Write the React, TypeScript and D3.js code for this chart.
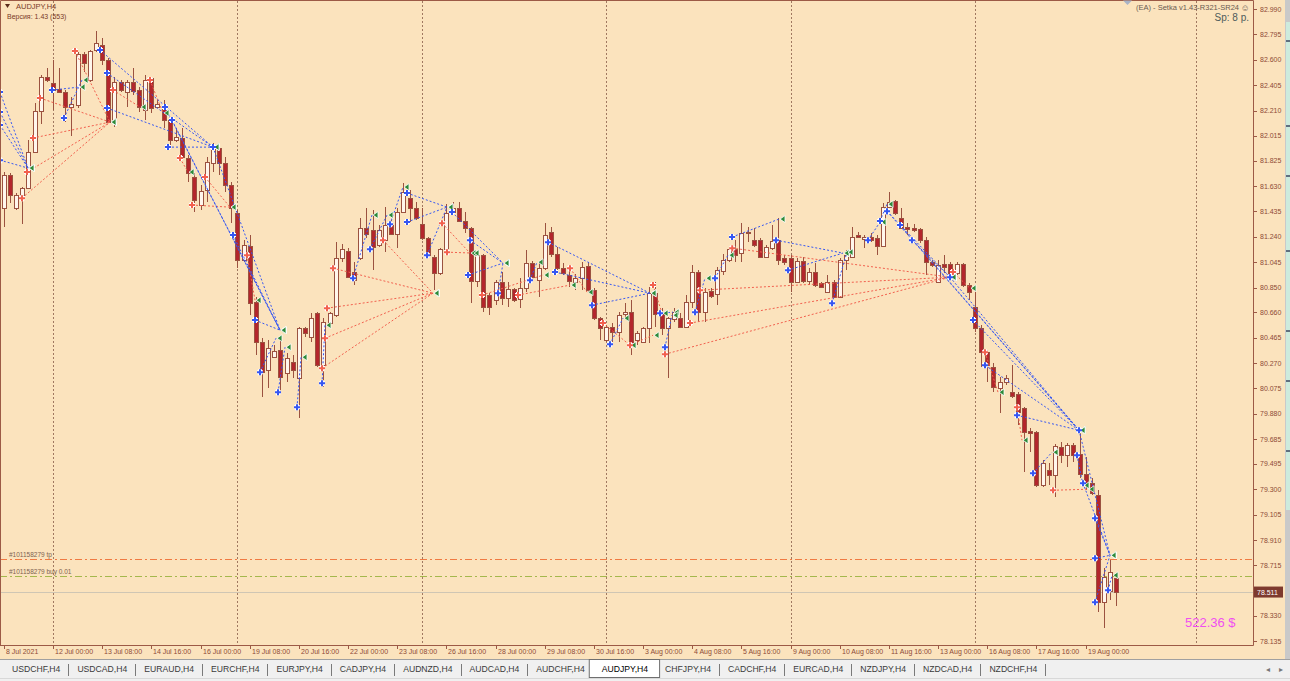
import React, { useMemo } from "react";
import * as d3 from "d3";

// AUDJPY H4 bars, [open, high, low, close], one list per trading week
const week0 = [
  [81.46, 81.737, 81.314, 81.714], [81.714, 81.729, 81.499, 81.56], [81.46, 81.576, 81.445, 81.56],
  [81.56, 81.622, 81.337, 81.614], [81.614, 81.983, 81.606, 81.891], [81.891, 82.267, 81.883, 82.206],
  [82.206, 82.483, 82.106, 82.467], [82.467, 82.537, 82.429, 82.444],
];
const week1 = [
  [82.421, 82.598, 82.214, 82.367], [82.375, 82.537, 82.344, 82.352], [82.352, 82.367, 82.121, 82.237],
  [82.237, 82.314, 82.014, 82.26], [82.252, 82.66, 82.229, 82.644], [82.644, 82.66, 82.506, 82.575],
  [82.444, 82.675, 82.429, 82.667], [82.675, 82.821, 82.66, 82.729], [82.713, 82.767, 82.56, 82.598],
  [82.598, 82.613, 82.114, 82.121], [82.121, 82.467, 82.083, 82.429], [82.429, 82.444, 82.352, 82.367],
  [82.352, 82.444, 82.237, 82.429], [82.429, 82.537, 82.329, 82.36], [82.367, 82.39, 82.198, 82.237],
  [82.214, 82.483, 82.137, 82.444], [82.46, 82.467, 82.191, 82.229], [82.237, 82.291, 82.229, 82.26],
  [82.252, 82.291, 82.075, 82.137], [82.137, 82.16, 81.945, 81.983], [81.983, 82.075, 81.968, 82.006],
  [81.998, 82.075, 81.845, 81.852], [81.845, 81.868, 81.66, 81.729], [81.699, 81.729, 81.43, 81.522],
  [81.484, 81.637, 81.445, 81.591], [81.599, 81.852, 81.507, 81.814], [81.806, 81.96, 81.737, 81.929],
  [81.922, 81.929, 81.714, 81.806], [81.806, 81.852, 81.583, 81.637], [81.637, 81.66, 81.345, 81.46],
];
const week2 = [
  [81.422, 81.445, 80.999, 81.061], [81.061, 81.214, 81.045, 81.176], [81.168, 81.253, 80.638, 80.73],
  [80.738, 80.776, 80.331, 80.43], [80.43, 80.461, 80.008, 80.2], [80.215, 80.446, 80.077, 80.384],
  [80.315, 80.407, 80.308, 80.361], [80.369, 80.446, 80.046, 80.162], [80.192, 80.346, 80.123, 80.308],
  [80.277, 80.331, 80.154, 80.215], [80.154, 80.546, 79.846, 80.538], [80.538, 80.546, 80.469, 80.5],
  [80.469, 80.653, 80.43, 80.615], [80.653, 80.661, 80.238, 80.254], [80.254, 80.615, 80.085, 80.584],
  [80.577, 80.661, 80.561, 80.653], [80.638, 81.199, 80.623, 81.076], [81.076, 81.184, 81.045, 81.145],
  [81.13, 81.153, 80.922, 80.93], [80.969, 81.045, 80.869, 80.907], [81.076, 81.384, 81.061, 81.307],
  [81.307, 81.46, 81.23, 81.261], [81.291, 81.445, 80.984, 81.161], [81.176, 81.33, 81.161, 81.291],
  [81.214, 81.468, 81.122, 81.33], [81.33, 81.368, 81.253, 81.261], [81.261, 81.46, 81.153, 81.43],
  [81.43, 81.653, 81.422, 81.583], [81.537, 81.599, 81.353, 81.46], [81.46, 81.507, 81.368, 81.384],
];
const week3 = [
  [81.337, 81.46, 81.214, 81.23], [81.23, 81.238, 81.076, 81.099], [81.084, 81.099, 80.83, 80.961],
  [80.961, 81.153, 80.946, 81.145], [81.145, 81.491, 81.099, 81.422], [81.43, 81.507, 81.422, 81.46],
  [81.46, 81.507, 81.353, 81.361], [81.361, 81.43, 81.268, 81.307], [81.307, 81.314, 80.73, 80.899],
  [80.899, 81.115, 80.853, 81.099], [81.099, 81.107, 80.661, 80.7], [80.792, 80.807, 80.638, 80.7],
  [80.753, 80.907, 80.715, 80.892], [80.892, 80.969, 80.715, 80.769], [80.769, 80.892, 80.7, 80.838],
  [80.838, 80.845, 80.738, 80.753], [80.761, 80.922, 80.692, 80.845], [80.845, 81.138, 80.815, 81.038],
  [81.038, 81.053, 80.892, 80.93], [80.907, 81.053, 80.776, 80.999], [80.999, 81.345, 80.984, 81.253],
  [81.276, 81.314, 81.084, 81.107], [81.107, 81.161, 80.984, 80.999], [80.999, 81.038, 80.946, 80.961],
  [80.946, 81.022, 80.853, 80.899], [80.892, 80.953, 80.83, 80.922], [80.922, 81.045, 80.83, 81.007],
  [81.015, 81.045, 80.807, 80.83], [80.83, 80.845, 80.6, 80.615], [80.615, 80.623, 80.446, 80.538],
];
const week4 = [
  [80.446, 80.561, 80.43, 80.546], [80.546, 80.577, 80.43, 80.507], [80.507, 80.661, 80.43, 80.638],
  [80.646, 80.73, 80.615, 80.661], [80.661, 80.753, 80.331, 80.407], [80.446, 80.515, 80.407, 80.5],
  [80.43, 80.546, 80.423, 80.538], [80.538, 80.853, 80.423, 80.807], [80.807, 80.892, 80.546, 80.646],
  [80.646, 80.692, 80.484, 80.538], [80.538, 80.623, 80.154, 80.615], [80.607, 80.692, 80.584, 80.661],
  [80.615, 80.653, 80.538, 80.546], [80.546, 80.792, 80.538, 80.738], [80.738, 81.022, 80.692, 80.969],
  [80.969, 80.984, 80.584, 80.661], [80.661, 80.845, 80.584, 80.815], [80.822, 80.845, 80.769, 80.784],
  [80.799, 81.007, 80.715, 80.984], [80.976, 81.107, 80.946, 81.061], [81.061, 81.161, 81.045, 81.145],
  [81.145, 81.214, 81.045, 81.099], [81.115, 81.345, 81.045, 81.268], [81.268, 81.314, 81.199, 81.276],
  [81.214, 81.307, 81.161, 81.176], [81.214, 81.23, 81.076, 81.084], [81.084, 81.176, 81.076, 81.161],
  [81.153, 81.33, 81.138, 81.207], [81.214, 81.384, 81.022, 81.061], [81.076, 81.099, 81.022, 81.045],
];
const week5 = [
  [81.076, 81.099, 80.815, 80.892], [80.892, 81.076, 80.884, 81.053], [81.053, 81.084, 80.884, 80.899],
  [80.899, 80.999, 80.869, 80.969], [80.969, 81.038, 80.853, 80.869], [80.884, 80.892, 80.845, 80.853],
  [80.815, 80.946, 80.807, 80.892], [80.892, 80.907, 80.769, 80.776], [80.776, 81.076, 80.769, 81.061],
  [81.061, 81.138, 80.984, 81.099], [81.084, 81.314, 81.076, 81.238], [81.253, 81.276, 81.23, 81.238],
  [81.222, 81.253, 81.153, 81.238], [81.238, 81.268, 81.199, 81.214], [81.23, 81.253, 81.099, 81.168],
  [81.168, 81.499, 81.161, 81.468], [81.468, 81.583, 81.46, 81.507], [81.514, 81.522, 81.407, 81.422],
  [81.384, 81.46, 81.299, 81.307], [81.314, 81.345, 81.253, 81.299], [81.307, 81.337, 81.276, 81.291],
  [81.299, 81.307, 81.191, 81.214], [81.214, 81.238, 80.946, 81.045], [81.045, 81.061, 81.007, 81.022],
  [80.892, 81.061, 80.884, 81.022], [81.03, 81.099, 80.961, 81.007], [81.03, 81.045, 80.922, 80.953],
  [80.961, 81.045, 80.946, 81.03], [81.03, 81.038, 80.853, 80.869], [80.869, 80.884, 80.753, 80.815],
];
const week6 = [
  [80.7, 80.869, 80.507, 80.538], [80.538, 80.561, 80.238, 80.354], [80.354, 80.369, 80.123, 80.254],
  [80.238, 80.269, 80.046, 80.085], [80.077, 80.162, 79.885, 80.123], [80.123, 80.177, 80.1, 80.154],
  [80.046, 80.254, 80.0, 80.015], [80.031, 80.046, 79.793, 79.893], [79.923, 79.931, 79.431, 79.739],
  [79.746, 79.77, 79.585, 79.731], [79.739, 79.746, 79.316, 79.331], [79.331, 79.524, 79.316, 79.5],
  [79.447, 79.5, 79.331, 79.408], [79.408, 79.647, 79.239, 79.631], [79.623, 79.662, 79.5, 79.562],
  [79.562, 79.654, 79.47, 79.639], [79.639, 79.654, 79.508, 79.562], [79.57, 79.77, 79.385, 79.416],
  [79.416, 79.547, 79.293, 79.331], [79.347, 79.385, 79.255, 79.27], [79.255, 79.293, 78.355, 78.432],
  [78.432, 78.693, 78.232, 78.624], [78.517, 78.755, 78.448, 78.663], [78.617, 78.655, 78.401, 78.511],
];

const timeLabels = [
  "8 Jul 2021", "12 Jul 00:00", "13 Jul 08:00", "14 Jul 16:00", "16 Jul 00:00", "19 Jul 08:00",
  "20 Jul 16:00", "22 Jul 00:00", "23 Jul 08:00", "26 Jul 16:00", "28 Jul 00:00", "29 Jul 08:00",
  "30 Jul 16:00", "3 Aug 00:00", "4 Aug 08:00", "5 Aug 16:00", "9 Aug 00:00", "10 Aug 08:00",
  "11 Aug 16:00", "13 Aug 00:00", "16 Aug 08:00", "17 Aug 16:00", "19 Aug 00:00",
];
const priceTicks = [
  82.99, 82.795, 82.6, 82.405, 82.21, 82.015, 81.825, 81.63, 81.435, 81.24, 81.045, 80.85, 80.66,
  80.465, 80.27, 80.075, 79.88, 79.685, 79.495, 79.3, 79.105, 78.91, 78.715, 78.33, 78.135,
];
const weekStarts = [8, 38, 68, 98, 128, 158, 194];

// trade history: [open bar, open price, close bar, close price]
const buyTrades = [
  [-0.62, 82.352, 3.94, 81.768], [-0.62, 82.198, 3.94, 81.768], [-0.62, 82.098, 3.94, 81.768],
  [-0.62, 81.829, 3.94, 81.768], [7.84, 82.367, 12.23, 82.39], [9.79, 82.152, 12.72, 82.444],
  [15.65, 82.675, 34.03, 81.929], [16.79, 82.498, 34.03, 81.929], [16.79, 82.229, 34.03, 81.929],
  [26.71, 81.929, 34.03, 81.929], [34.03, 81.929, 44.93, 80.523], [26.22, 82.237, 44.93, 80.523],
  [27.36, 82.137, 44.93, 80.523], [37.29, 81.253, 44.93, 80.523], [40.87, 80.6, 44.93, 80.523],
  [41.68, 80.2, 44.28, 80.461], [44.61, 80.046, 45.75, 80.392], [47.7, 79.931, 48.35, 80.315],
  [51.77, 80.115, 52.25, 80.561], [56.81, 80.922, 59.9, 81.407], [59.57, 81.145, 62.34, 81.407],
  [62.83, 81.337, 64.94, 81.622], [65.59, 81.576, 72.1, 81.468], [65.59, 81.353, 72.1, 81.468],
  [68.85, 81.099, 72.1, 81.468], [72.91, 81.43, 81.21, 81.038], [75.84, 81.214, 81.21, 81.038],
  [75.52, 80.946, 81.21, 81.038], [80.4, 80.807, 81.21, 81.038], [85.6, 80.907, 86.74, 81.045],
  [88.53, 81.199, 105.13, 80.807], [89.67, 80.969, 105.13, 80.807], [95.69, 80.715, 105.13, 80.807],
  [98.62, 80.415, 100.73, 80.615], [106.75, 80.653, 108.87, 80.661], [107.56, 80.392, 108.7, 80.638],
  [112.45, 80.661, 114.07, 80.922], [115.7, 80.922, 117.81, 81.099], [118.47, 81.238, 126.11, 81.376],
  [125.62, 81.214, 136.52, 81.115], [127.58, 80.984, 136.52, 81.115], [134.74, 80.73, 137.17, 81.122],
  [140.59, 81.214, 142.54, 81.353], [142.54, 81.361, 143.68, 81.491], [143.68, 81.437, 153.93, 80.93],
  [147.74, 81.214, 153.93, 80.93], [143.68, 81.437, 174.92, 79.754], [145.8, 81.33, 174.92, 79.754],
  [153.93, 80.93, 174.92, 79.754], [157.67, 80.6, 174.92, 79.754], [159.62, 80.254, 174.92, 79.754],
  [164.83, 79.869, 174.92, 79.754], [167.43, 79.424, 170.53, 79.585], [174.59, 79.562, 175.57, 79.331],
  [174.92, 79.754, 179.96, 78.793], [175.57, 79.347, 179.96, 78.793], [177.52, 79.078, 179.96, 78.793],
  [177.52, 78.432, 179.96, 78.793], [177.52, 78.77, 179.96, 78.793], [179.64, 78.524, 180.29, 78.64],
];
const sellTrades = [
  [5.89, 82.306, 17.28, 82.121], [4.75, 81.999, 17.28, 82.121], [3.77, 81.737, 17.28, 82.121],
  [2.96, 81.537, 17.28, 82.121], [11.58, 82.667, 17.28, 82.121], [17.76, 82.367, 22.16, 82.237],
  [23.78, 82.444, 25.9, 82.191], [28.66, 81.845, 29.97, 81.737], [30.62, 81.484, 36.8, 81.468],
  [32.73, 81.699, 36.8, 81.468], [39.56, 81.099, 40.87, 80.753], [53.55, 80.999, 69.82, 80.807],
  [52.58, 80.692, 69.82, 80.807], [52.25, 80.461, 69.82, 80.807], [51.77, 80.231, 69.82, 80.807],
  [61.69, 81.214, 69.82, 80.807], [71.29, 81.345, 75.84, 81.115], [72.1, 81.122, 76.33, 81.115],
  [77.79, 80.792, 87.72, 80.946], [83.65, 80.792, 92.11, 80.869], [92.11, 80.999, 94.88, 80.815],
  [97.47, 80.577, 101.87, 80.407], [101.87, 80.407, 105.61, 80.484], [105.61, 80.869, 107.08, 80.653],
  [107.56, 80.338, 153.93, 80.93], [111.63, 80.577, 153.93, 80.93], [113.26, 80.83, 153.93, 80.93],
  [118.5, 81.153, 153.93, 80.93], [154.41, 80.969, 157.18, 80.845], [159.62, 80.354, 161.74, 80.046],
  [164.83, 79.931, 165.64, 79.677], [170.69, 79.293, 176.39, 79.301],
];

const bidPrice = 78.511;
const tpPrice = 78.762;
const entryPrice = 78.634;
const ticket = "#101158279";
const profitText = "522.36 $";
const tabs = [
  "USDCHF,H4", "USDCAD,H4", "EURAUD,H4", "EURCHF,H4", "EURJPY,H4", "CADJPY,H4", "AUDNZD,H4",
  "AUDCAD,H4", "AUDCHF,H4", "AUDJPY,H4", "CHFJPY,H4", "CADCHF,H4", "EURCAD,H4", "NZDJPY,H4",
  "NZDCAD,H4", "NZDCHF,H4",
];
const activeTab = "AUDJPY,H4";

const BG = "#FBE3BD";
const FRAME = "#9C5A46";
const TXT = "#8E4A36";
const WICK = "#9B5240";
const BULL = "#FFF6EC";
const BEAR = "#B3262C";
const BLUE = "#3556F2";
const RED = "#F2604E";
const FONT = "'Liberation Sans', Arial, sans-serif";

const PR = 1253;
const PB = 645;

const App = () => {
  const bars = [...week0, ...week1, ...week2, ...week3, ...week4, ...week5, ...week6];
  const x = d3.scaleLinear().domain([0, bars.length - 1]).range([3.8, 3.8 + 6.147 * (bars.length - 1)]);
  const y = d3.scaleLinear().domain([78.135, 82.99]).range([641, 9]);

  const tabLayout = useMemo(() => {
    const ctx = document.createElement("canvas").getContext("2d");
    ctx.font = `8.65px ${FONT}`;
    let cur = 4;
    return tabs.map((t) => {
      const w = ctx.measureText(t).width;
      const r = { t, x0: cur, tx: cur + 8, x1: cur + w + 16 };
      cur = cur + w + 17;
      return r;
    });
  }, []);

  const plus = "M-3,0H3M0,-3V3";
  const tri = "M1,0L6,-3.5L6,3.5Z";

  const tradeLayer = (list, color) =>
    list.map((d, i) => (
      <line key={color + i} x1={x(d[0])} y1={y(d[1])} x2={x(d[2])} y2={y(d[3])} stroke={color} strokeWidth={1} strokeDasharray="2 2" />
    ));

  const markerLayer = (list, color) =>
    list.map((d, i) => (
      <g key={"m" + color + i}>
        <g transform={`translate(${x(d[0])},${y(d[1])})`}>
          <path d={plus} stroke="#fff" strokeWidth={4} />
          <path d={plus} stroke={color} strokeWidth={2} />
        </g>
        <path transform={`translate(${x(d[2])},${y(d[3])})`} d={tri} fill="#2E8B3A" stroke="#fff" strokeWidth={0.8} />
      </g>
    ));

  return (
    <svg width={1290} height={681} style={{ position: "absolute", left: 0, top: 0, display: "block" }} fontFamily={FONT}>
      <defs>
        <clipPath id="plot">
          <rect x={0} y={0} width={PR} height={PB} />
        </clipPath>
      </defs>
      <rect width={1290} height={681} fill={BG} />

      {/* weekly separators */}
      {weekStarts.map((w) => (
        <line key={w} x1={Math.round(x(w)) + 0.5} x2={Math.round(x(w)) + 0.5} y1={1} y2={PB} stroke="#A07860" strokeDasharray="2 2" />
      ))}

      {/* order levels */}
      <line x1={0} x2={PR} y1={Math.round(y(tpPrice)) + 0.5} y2={Math.round(y(tpPrice)) + 0.5} stroke="#F07A42" strokeDasharray="7 3 2 3" />
      <line x1={0} x2={PR} y1={Math.round(y(entryPrice)) + 0.5} y2={Math.round(y(entryPrice)) + 0.5} stroke="#A4B84C" strokeDasharray="7 3 2 3" />
      <line x1={0} x2={PR} y1={Math.round(y(bidPrice)) + 0.5} y2={Math.round(y(bidPrice)) + 0.5} stroke="#CFC6B4" />
      <text x={9} y={y(tpPrice) - 2} fontSize={6.5} fill="#7D6250">{`${ticket} tp`}</text>
      <text x={9} y={y(entryPrice) - 2} fontSize={6.5} fill="#7D6250">{`${ticket} buy 0.01`}</text>

      {/* candles */}
      <g clipPath="url(#plot)">
        {bars.map((d, i) => {
          const [o, h, l, c] = d;
          const cx = Math.round(x(i));
          const top = Math.round(y(Math.max(o, c)));
          const bot = Math.round(y(Math.min(o, c)));
          return (
            <g key={i}>
              <line x1={cx + 0.5} x2={cx + 0.5} y1={Math.round(y(h))} y2={Math.round(y(l))} stroke={WICK} />
              <rect x={cx - 1.5} y={top + 0.5} width={4} height={Math.max(bot - top, 1)} fill={c >= o ? BULL : BEAR} stroke={WICK} />
            </g>
          );
        })}
        {tradeLayer(sellTrades, RED)}
        {tradeLayer(buyTrades, BLUE)}
        {markerLayer(sellTrades, RED)}
        {markerLayer(buyTrades, BLUE)}
      </g>

      {/* frame */}
      <path d={`M0.5,${PB}V0.5H${PR + 0.5}V${PB + 0.5}H0`} fill="none" stroke={FRAME} />

      {/* price axis */}
      {priceTicks.map((p) => (
        <g key={p}>
          <line x1={PR} x2={PR + 4} y1={Math.round(y(p)) + 0.5} y2={Math.round(y(p)) + 0.5} stroke={FRAME} />
          <text x={PR + 7} y={y(p) + 2.5} fontSize={7} fill={TXT}>{p.toFixed(3)}</text>
        </g>
      ))}
      <rect x={PR + 1} y={y(bidPrice) - 5.5} width={29} height={11} fill="#7E3A2E" />
      <text x={PR + 4} y={y(bidPrice) + 2.5} fontSize={7} fill="#fff">{bidPrice.toFixed(3)}</text>

      {/* time axis */}
      {timeLabels.map((t, k) => {
        const tx = Math.round(x(k * 8)) + 0.5;
        return (
          <g key={t}>
            <line x1={tx} x2={tx} y1={PB} y2={PB + 4} stroke={FRAME} />
            <text x={tx + 1.5} y={PB + 9} fontSize={7} fill={TXT}>{t}</text>
          </g>
        );
      })}

      {/* headers */}
      <path d="M5,4H10L7.5,8Z" fill="#5A2A1A" />
      <text x={16} y={9} fontSize={7.5} fill="#7A3A28">AUDJPY,H4</text>
      <text x={7} y={19} fontSize={7} fill="#7A3A28">Версия: 1.43 (553)</text>
      <path d="M1123,0.5H1132L1127.5,5Z" fill="#A9B3C6" />
      <text x={1239} y={10} fontSize={7.5} fill="#6A5A52" textAnchor="end">(EA) - Setka v1.43-R321-SR24</text>
      <text x={1245} y={10.5} fontSize={9} fill="#6A5A52" textAnchor="middle">☺</text>
      <text x={1249} y={21} fontSize={10} fill="#4D5B5B" textAnchor="end">Sp: 8 p.</text>
      <text x={1185} y={627} fontSize={13} fill="#F050F0">{profitText}</text>

      {/* neighbouring window strip */}
      <rect x={1285} y={0} width={5} height={659} fill="#C9C9C9" />
      <rect x={1286} y={22} width={4} height={488} fill="#CDEBDD" />
      {[40, 125, 175, 250, 330, 380, 450].map((v) => (
        <rect key={v} x={1286} y={v} width={4} height={2} fill="#5F6F7F" />
      ))}

      {/* symbol tabs */}
      <rect x={0} y={659} width={1290} height={22} fill="#F0F0F0" />
      <line x1={0} x2={1290} y1={659.5} y2={659.5} stroke="#A0A0A0" />
      <line x1={0} x2={1290} y1={678.5} y2={678.5} stroke="#D8D8D8" />
      {tabLayout.map((tb) => {
        const on = tb.t === activeTab;
        return (
          <g key={tb.t}>
            {on && <rect x={tb.x0 - 4.5} y={659.5} width={tb.x1 - tb.x0 + 8} height={18} fill="#fff" stroke="#6F6F6F" />}
            <text x={tb.tx} y={672} fontSize={8.65} fill={on ? "#000" : "#3A3A3A"}>{tb.t}</text>
            {!on && <line x1={Math.round(tb.x1) + 0.5} x2={Math.round(tb.x1) + 0.5} y1={664} y2={676} stroke="#7A7A7A" />}
          </g>
        );
      })}
      <text x={1266} y={672} fontSize={8} fill="#777">◂</text>
      <text x={1279} y={672} fontSize={8} fill="#777">▸</text>
    </svg>
  );
};

export default App;
